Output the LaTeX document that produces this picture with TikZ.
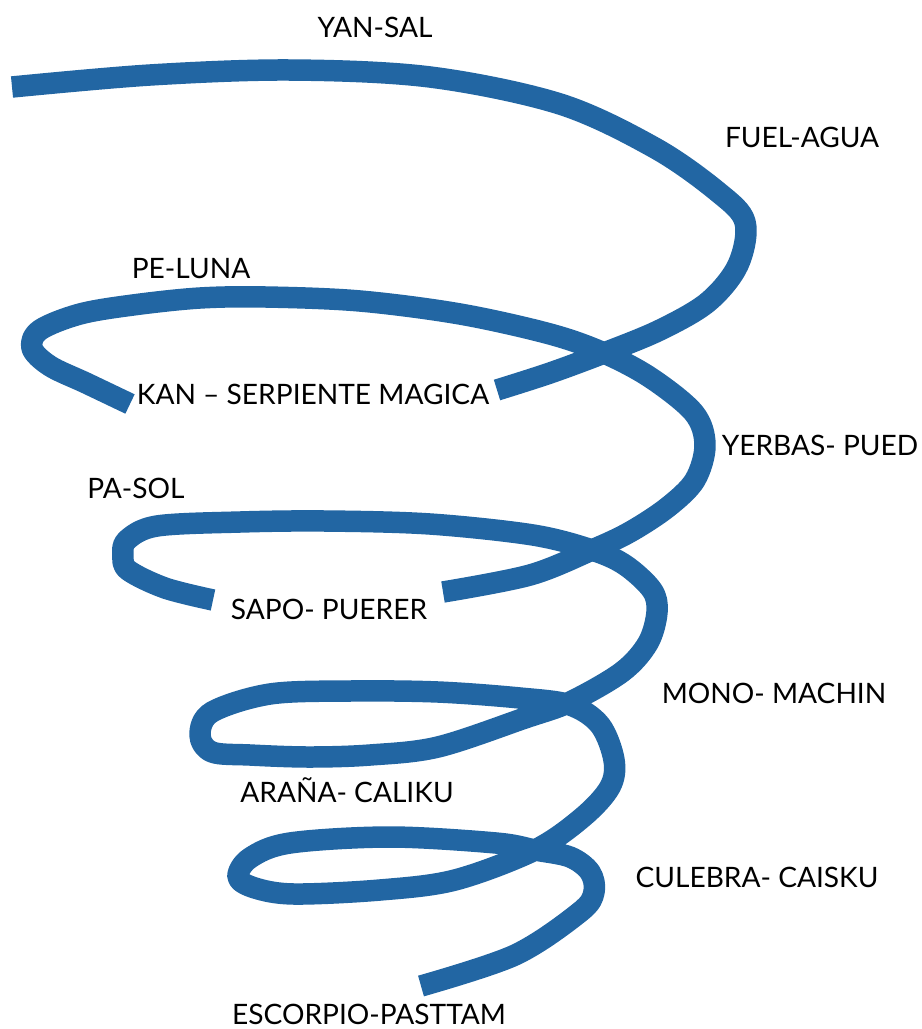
\documentclass[tikz,border=0pt]{standalone}
\usepackage{fontspec}
\setmainfont{Lato}
\usepackage{tikz}
\definecolor{spiralblue}{RGB}{34,102,163}

\begin{document}
\begin{tikzpicture}[
    x=0.02cm, y=-0.02cm,
    every node/.style={font=\fontsize{16}{19}\selectfont},
    lbl/.style={inner sep=0pt, anchor=base},
    coil/.style={draw=spiralblue, line width=0.43cm, line cap=butt, line join=round}
  ]
    \useasboundingbox (0,0) rectangle (922,1029);

    % top turn, down to KAN
    \draw[coil] plot[smooth, tension=0.55] coordinates {
      (12,87) (150,75) (290,70) (430,77) (560,104) (655,148) (718,192)
      (745,222) (738,265) (708,302) (660,330) (604,353) (550,373) (497,390)};
    % PE-LUNA turn, down to SAPO
    \draw[coil] plot[smooth, tension=0.55] coordinates {
      (130,404) (86,383) (50,366) (32,348) (40,330) (80,314) (133,305)
      (200,298) (266,297) (360,301) (460,314) (550,334) (604,353) (651,378)
      (694,413) (705,445) (695,480) (668,507) (630,532) (592,550) (530,575)
      (443,592)};
    % PA-SOL turn and the lower turns
    \draw[coil] plot[smooth, tension=0.55] coordinates {
      (213,600) (165,588) (128,570) (123,555) (127,540) (157,526) (240,522)
      (325,521) (430,524) (533,535) (592,550) (625,565) (652,590) (657,612)
      (648,643) (622,672) (570,702) (525,718) (438,747) (370,755) (309,757)
      (250,755) (212,752) (200,735) (212,712) (270,694) (350,691) (438,692)
      (520,698) (570,705) (600,725) (614,760) (610,787) (583,817) (535,850)
      (455,880) (380,890) (294,894) (255,888) (238,877) (250,858) (290,843)
      (390,837) (496,843) (535,850) (570,857) (590,872) (594,892) (580,912)
      (515,955) (421,986)};

    \node[lbl] (yansal) at (375,37) {YAN-SAL};
    \node[lbl] (fuelagua) at (802,147) {FUEL-AGUA};
    \node[lbl] (peluna) at (191,278) {PE-LUNA};
    \node[lbl] (kan) at (313,404) {KAN -- SERPIENTE MAGICA};
    \node[lbl] (yerbas) at (820,455) {YERBAS- PUED};
    \node[lbl] (pasol) at (136,498) {PA-SOL};
    \node[lbl] (sapo) at (329,619) {SAPO- PUERER};
    \node[lbl] (mono) at (774,703) {MONO- MACHIN};
    \node[lbl] (arana) at (347,802) {ARAÑA- CALIKU};
    \node[lbl] (culebra) at (757,887) {CULEBRA- CAISKU};
    \node[lbl] (escorpio) at (369,1024) {ESCORPIO-PASTTAM};
\end{tikzpicture}
\end{document}
